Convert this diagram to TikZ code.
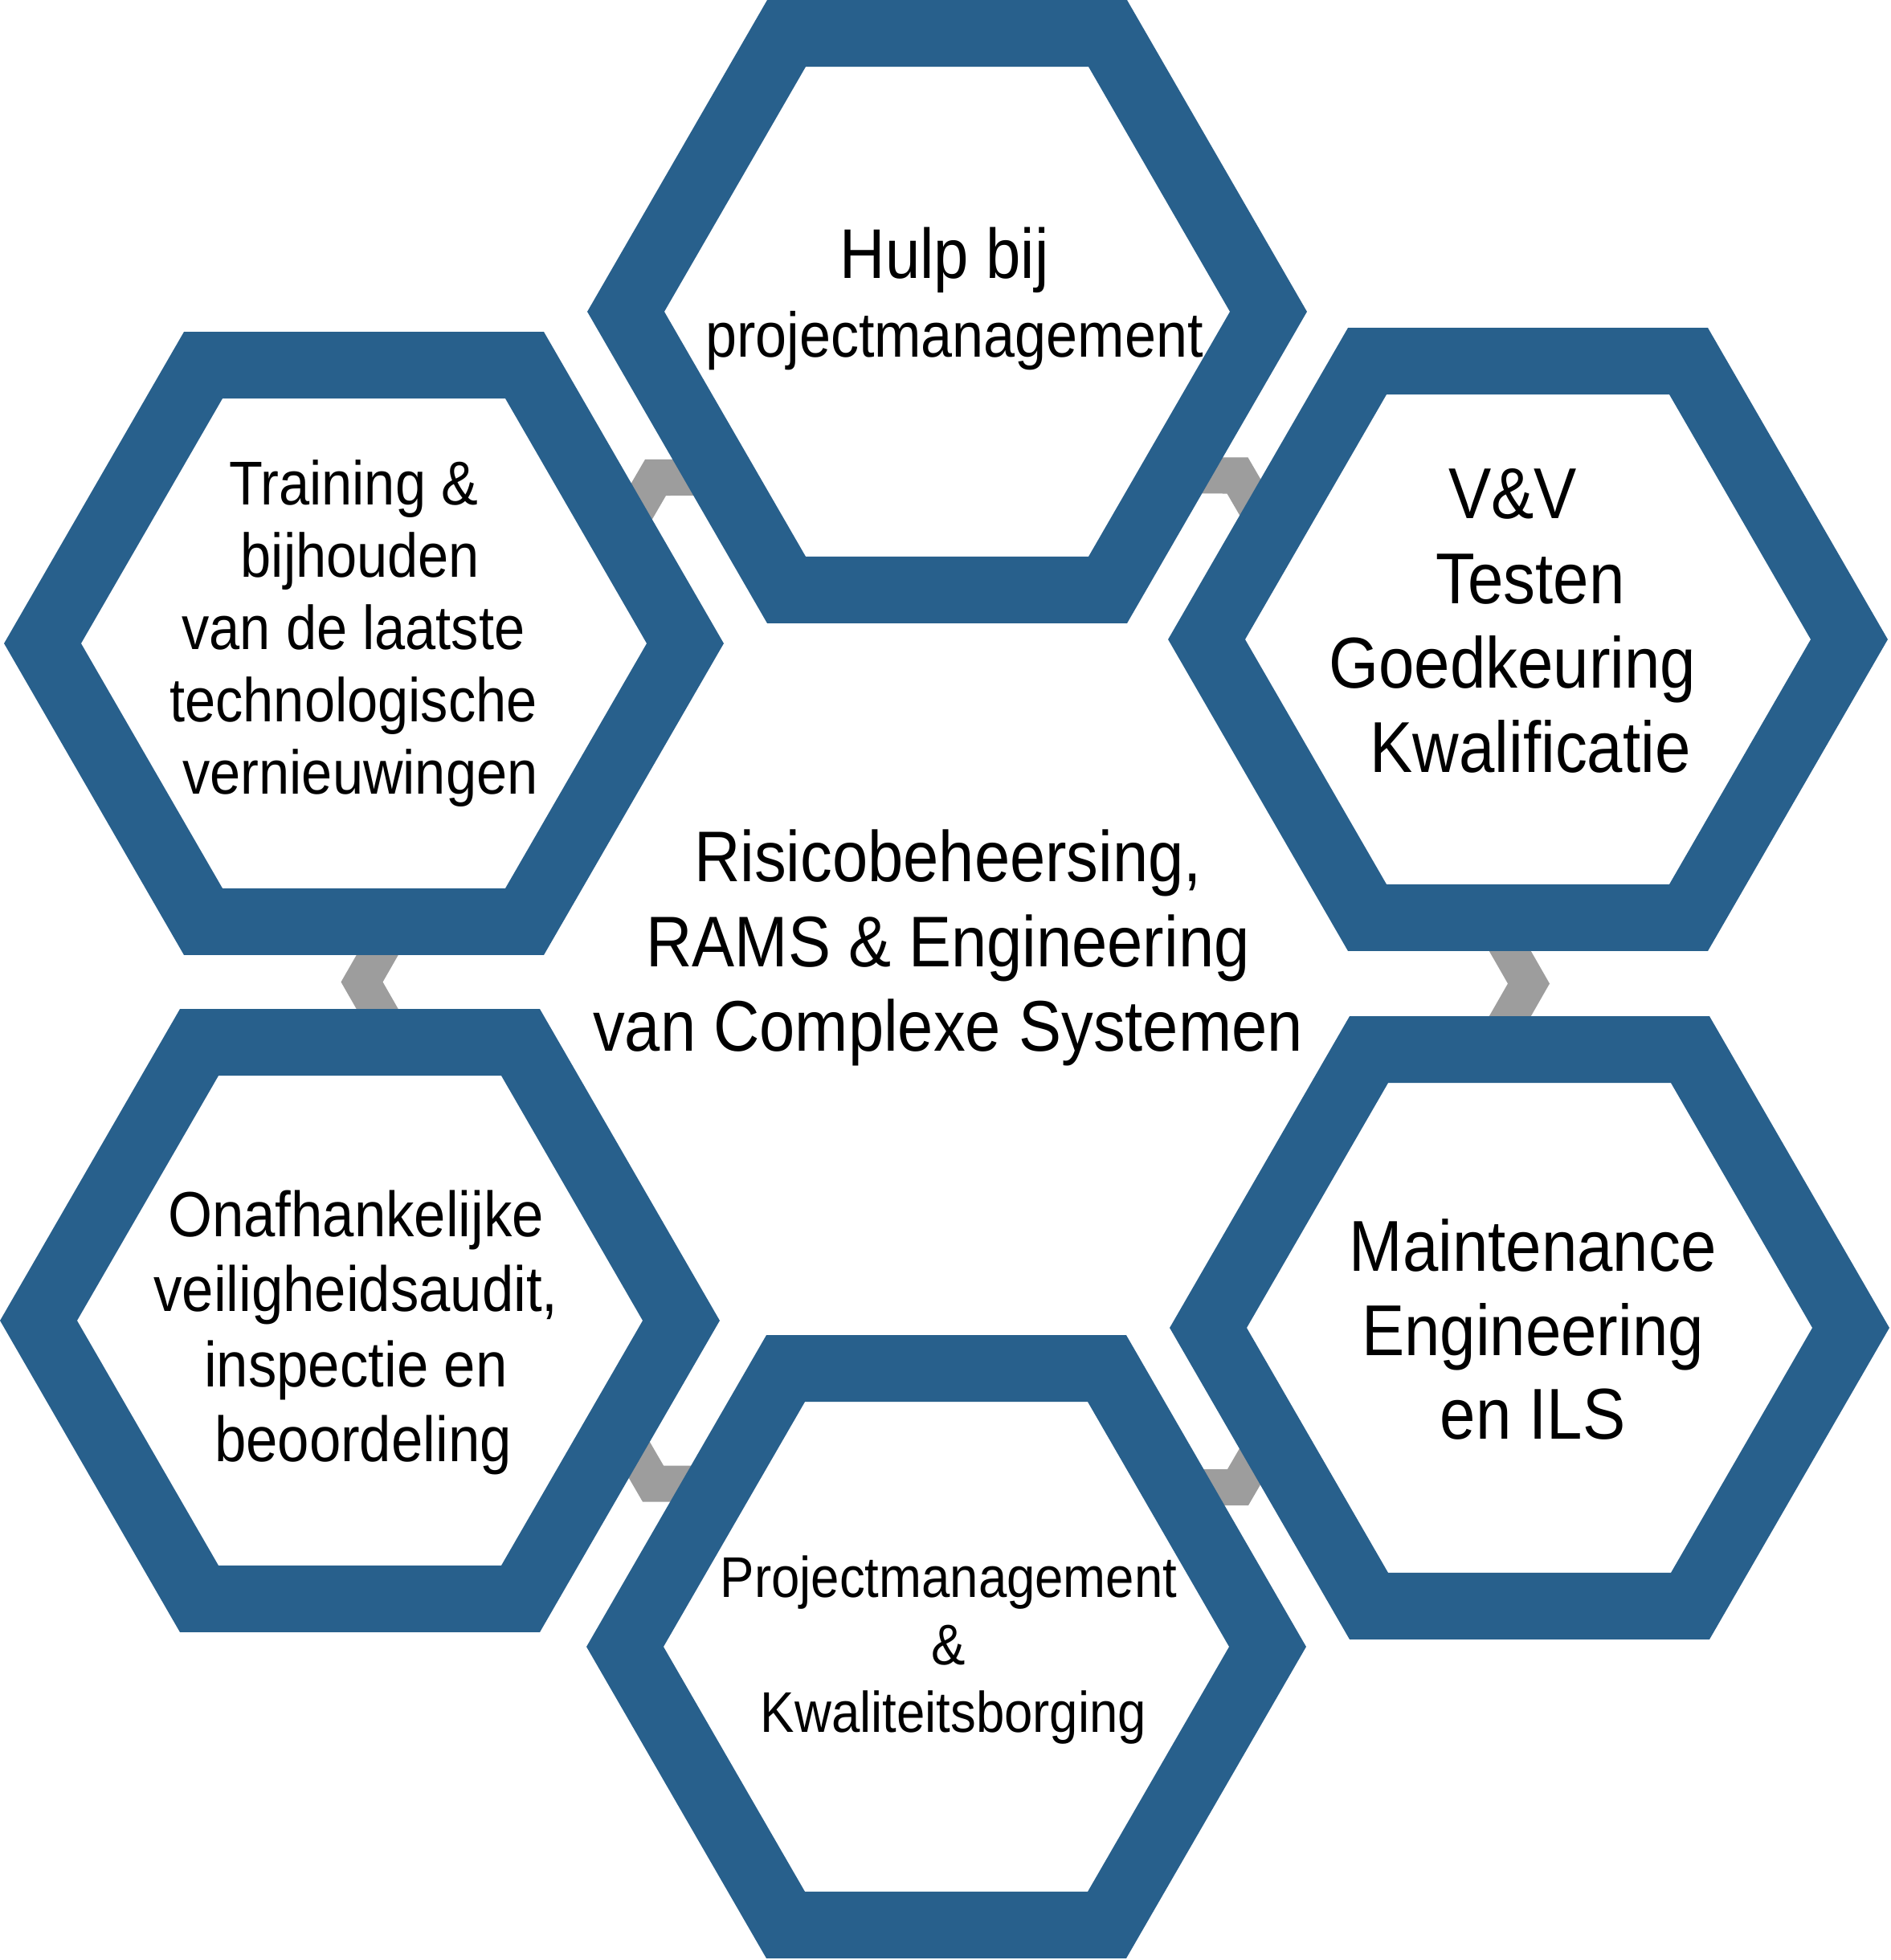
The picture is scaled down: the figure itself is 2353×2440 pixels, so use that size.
\documentclass[tikz,border=0pt]{standalone}
\usepackage{fontspec}
\setmainfont[FakeStretch=0.89]{Liberation Sans}
\usepackage{tikz}
\usetikzlibrary{calc}
\definecolor{hexblue}{RGB}{40, 96, 140}
\definecolor{chevgray}{RGB}{157, 157, 157}
\tikzset{
  hexring/.style = {draw = hexblue, line width = 0.83cm, fill = white, line join = miter},
  chevron/.style = {fill = chevgray},
  txt/.style 2 args = {align = center, inner sep = 0pt, font = \fontsize{#1}{#2}\selectfont}
}

\begin{document}
\begin{tikzpicture}[x = 0.01cm, y = -0.01cm]
\useasboundingbox (0,0) rectangle (2353,2440);
% centres of the hexagons
\coordinate (hulp) at (1179,388);
\coordinate (training) at (453,801);
\coordinate (vv) at (1902,796);
\coordinate (maint) at (1904,1653);
\coordinate (kwal) at (1178,2050);
\coordinate (audit) at (448,1644);
% gray chevrons in the gaps, pointing outwards
\foreach \a/\b/\r in {hulp/training/120, hulp/vv/60, vv/maint/0, maint/kwal/300, kwal/audit/240, audit/training/180}
  \fill[chevron, shift = {($(\a)!0.5!(\b)$)}, rotate = \r]
    (26,0) -- (-17,75) -- (-69,75) -- (-26,0) -- (-69,-75) -- (-17,-75) -- cycle;
% hexagons
\foreach \h in {hulp, training, vv, maint, kwal, audit}
  \draw[hexring] (\h) +(0:400) -- +(60:400) -- +(120:400) -- +(180:400) -- +(240:400) -- +(300:400) -- cycle;
% texts
\node[txt = {22.4}{27.9}] (hulptxt) at (1188,372) {{\fontsize{24.9}{27.9}\selectfont Hulp bij\kern7pt}\\projectmanagement};
\node[txt = {21.9}{25.6}] (trainingtxt) at (440,789) {Training \&\\\kern4.8pt bijhouden\\van de laatste\\technologische\\\kern4.8pt vernieuwingen};
\node[txt = {25.5}{29.9}] (vvtxt) at (1894,773) {V\&V\kern6.3pt\\\kern6.3pt Testen\\Goedkeuring\kern6.3pt\\\kern6.3pt Kwalificatie};
\node[txt = {25.4}{29.9}] (centre) at (1180,1180) {Risicobeheersing,\\RAMS \& Engineering\\van Complexe Systemen};
\node[txt = {25.5}{29.6}] (mainttxt) at (1908,1655) {Maintenance\\Engineering\\en ILS};
\node[txt = {22.6}{26.6}] (audittxt) at (443,1659) {Onafhankelijke\\veiligheidsaudit,\\inspectie en\\\kern5.1pt beoordeling};
\node[txt = {20.3}{23.9}] (kwaltxt) at (1181,2054) {Projectmanagement\\\&\\\kern3.4pt Kwaliteitsborging};
\end{tikzpicture}
\end{document}
